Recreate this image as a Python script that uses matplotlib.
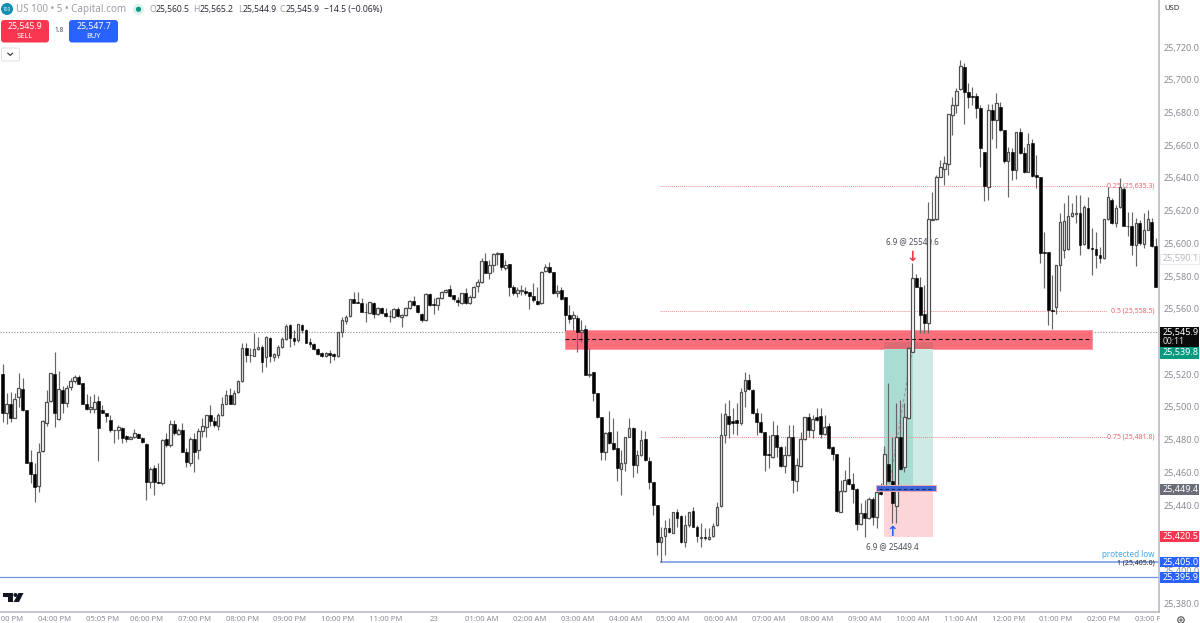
import matplotlib
matplotlib.use('Agg')
import matplotlib.pyplot as plt
from matplotlib.patches import Rectangle, FancyBboxPatch, Circle, Polygon

# 5 minute candles
opens = [
    25519.9, 25496.4, 25501.7, 25493.4, 25505.8, 25510.7, 25498.1, 25466.1, 25458.7, 25451.6,
    25473.0, 25490.3, 25503.6, 25520.1, 25492.4, 25510.3, 25502.2, 25511.9, 25515.8, 25518.3,
    25514.4, 25501.5, 25498.9, 25498.5, 25503.4, 25497.9, 25496.0, 25491.8, 25485.6, 25485.6,
    25486.9, 25482.2, 25480.5, 25481.8, 25483.6, 25481.2, 25477.3, 25453.9, 25462.4, 25453.9,
    25453.4, 25480.1, 25476.9, 25489.3, 25483.4, 25485.8, 25472.4, 25465.9, 25480.1, 25473.6,
    25485.2, 25487.9, 25495.0, 25491.1, 25488.3, 25495.0, 25501.7, 25507.2, 25501.9, 25509.3,
    25516.0, 25536.2, 25531.7, 25531.3, 25535.2, 25536.8, 25530.7, 25541.9, 25530.7, 25531.7,
    25536.4, 25541.7, 25550.0, 25542.3, 25540.9, 25549.8, 25547.0, 25539.4, 25538.4, 25535.6,
    25532.7, 25531.3, 25533.1, 25532.1, 25531.3, 25545.6, 25552.5, 25555.5, 25565.7, 25563.9,
    25563.7, 25558.2, 25557.6, 25563.3, 25556.8, 25560.2, 25557.6, 25555.8, 25555.1, 25559.6,
    25555.1, 25556.1, 25560.2, 25564.5, 25562.1, 25556.8, 25552.9, 25569.0, 25562.7, 25562.3,
    25566.3, 25570.2, 25571.8, 25568.2, 25565.3, 25563.3, 25569.4, 25563.3, 25566.9, 25574.1,
    25576.5, 25589.4, 25582.0, 25586.7, 25593.8, 25594.3, 25584.7, 25587.1, 25573.1, 25569.8,
    25571.0, 25571.0, 25570.4, 25567.8, 25564.9, 25563.3, 25583.3, 25585.3, 25582.2, 25569.4,
    25571.4, 25566.9, 25556.1, 25554.1, 25554.1, 25545.5, 25547.4, 25519.5, 25521.1, 25508.7,
    25493.6, 25472.6, 25484.4, 25477.7, 25474.6, 25461.8, 25465.9, 25481.8, 25486.9, 25464.4,
    25470.5, 25480.1, 25467.1, 25454.2, 25440.0, 25417.6, 25421.0, 25425.7, 25423.1, 25435.5,
    25433.5, 25417.6, 25427.8, 25436.3, 25426.3, 25419.7, 25420.3, 25419.1, 25421.3, 25427.8,
    25439.4, 25482.8, 25494.5, 25491.6, 25492.0, 25490.0, 25509.7, 25516.5, 25510.4, 25496.1,
    25490.6, 25484.5, 25471.0, 25469.6, 25482.6, 25475.7, 25464.1, 25470.6, 25481.8, 25454.9,
    25464.1, 25480.2, 25494.1, 25485.9, 25494.1, 25494.5, 25483.5, 25488.3, 25475.7, 25471.2,
    25436.0, 25448.8, 25455.7, 25452.7, 25449.8, 25428.4, 25434.9, 25431.9, 25443.5, 25432.5,
    25448.2, 25449.6, 25465.1, 25454.9, 25439.6, 25481.8, 25463.5, 25493.0, 25533.8, 25578.6,
    25573.5, 25556.8, 25551.1, 25614.5, 25614.7, 25640.8, 25645.2, 25648.5, 25678.5, 25684.6,
    25694.2, 25708.0, 25692.7, 25690.1, 25690.1, 25682.5, 25656.0, 25634.6, 25681.5, 25675.4,
    25683.6, 25669.3, 25650.3, 25656.0, 25644.8, 25668.3, 25655.0, 25643.8, 25661.1, 25641.6,
    25640.8, 25594.7, 25594.5, 25559.2, 25561.3, 25586.7, 25595.9, 25596.3, 25616.7, 25618.0,
    25618.7, 25599.4, 25621.4, 25596.9, 25596.5, 25592.9, 25590.8, 25614.7, 25626.5, 25612.2,
    25622.0, 25633.2, 25610.8, 25610.8, 25599.0, 25612.2, 25599.4, 25608.2, 25613.2, 25598.6,
]
highs = [
    25526.0, 25508.3, 25509.3, 25508.3, 25520.5, 25517.4, 25498.1, 25473.6, 25465.5, 25477.7,
    25492.0, 25510.3, 25520.5, 25533.7, 25522.1, 25512.7, 25513.4, 25517.4, 25519.5, 25519.5,
    25514.4, 25507.7, 25506.6, 25507.7, 25506.8, 25501.1, 25496.0, 25495.0, 25485.9, 25488.9,
    25487.9, 25482.8, 25482.2, 25486.5, 25484.2, 25481.8, 25477.7, 25463.4, 25464.4, 25465.5,
    25480.3, 25484.2, 25492.0, 25492.0, 25486.9, 25489.9, 25474.6, 25481.8, 25483.8, 25487.3,
    25493.0, 25495.0, 25501.1, 25494.0, 25496.0, 25506.2, 25510.3, 25511.3, 25510.3, 25516.4,
    25538.8, 25538.8, 25535.8, 25544.9, 25542.9, 25537.8, 25543.3, 25542.5, 25532.7, 25537.8,
    25542.5, 25550.7, 25550.7, 25547.0, 25550.7, 25550.7, 25547.4, 25541.9, 25538.8, 25536.2,
    25533.7, 25533.7, 25534.8, 25533.1, 25546.0, 25555.1, 25556.2, 25565.7, 25570.4, 25570.4,
    25566.3, 25563.3, 25564.3, 25564.3, 25561.3, 25560.8, 25560.2, 25559.2, 25560.2, 25561.3,
    25556.8, 25561.2, 25565.3, 25567.8, 25562.3, 25557.6, 25569.4, 25569.4, 25566.3, 25566.9,
    25571.0, 25571.8, 25574.5, 25568.4, 25566.9, 25569.8, 25572.9, 25568.4, 25573.9, 25578.0,
    25590.8, 25594.3, 25589.8, 25594.3, 25594.7, 25594.3, 25589.8, 25587.3, 25574.5, 25573.5,
    25574.5, 25573.5, 25570.4, 25575.9, 25573.5, 25583.0, 25587.3, 25588.8, 25582.6, 25574.5,
    25573.5, 25566.9, 25562.3, 25558.8, 25556.1, 25553.1, 25550.0, 25535.8, 25521.1, 25508.7,
    25493.6, 25484.8, 25497.5, 25493.4, 25485.4, 25473.6, 25481.8, 25493.0, 25487.5, 25473.6,
    25485.8, 25485.4, 25469.5, 25454.2, 25440.0, 25426.7, 25430.8, 25431.8, 25435.9, 25437.3,
    25433.9, 25433.9, 25435.9, 25438.6, 25427.8, 25428.8, 25425.8, 25425.8, 25428.8, 25442.1,
    25496.5, 25502.2, 25504.2, 25499.1, 25502.2, 25511.4, 25521.6, 25520.1, 25510.8, 25499.1,
    25496.1, 25484.9, 25482.8, 25491.4, 25489.0, 25476.1, 25476.1, 25489.0, 25489.0, 25468.6,
    25484.9, 25494.1, 25496.1, 25495.1, 25499.6, 25499.1, 25495.1, 25490.0, 25476.1, 25471.2,
    25455.3, 25461.4, 25469.2, 25459.4, 25450.2, 25441.1, 25443.1, 25444.7, 25445.1, 25448.6,
    25453.3, 25476.1, 25514.4, 25481.8, 25502.2, 25504.2, 25502.2, 25536.5, 25587.8, 25581.2,
    25579.6, 25574.5, 25625.5, 25631.6, 25641.8, 25650.9, 25653.4, 25678.9, 25689.7, 25694.8,
    25712.1, 25710.0, 25697.8, 25695.8, 25691.7, 25684.6, 25656.0, 25685.0, 25685.2, 25691.7,
    25686.6, 25669.3, 25659.1, 25658.1, 25668.3, 25670.3, 25659.1, 25667.2, 25663.6, 25654.0,
    25640.8, 25607.1, 25594.9, 25580.6, 25586.7, 25618.3, 25624.9, 25629.5, 25624.5, 25629.5,
    25629.5, 25623.4, 25628.5, 25609.2, 25607.1, 25598.0, 25614.7, 25634.6, 25627.5, 25623.4,
    25639.7, 25634.6, 25619.4, 25619.4, 25615.3, 25614.3, 25618.3, 25620.4, 25615.3, 25603.1,
]
lows = [
    25490.9, 25489.3, 25490.9, 25493.4, 25500.1, 25497.7, 25465.5, 25453.2, 25442.0, 25448.1,
    25472.6, 25488.5, 25503.2, 25487.9, 25492.0, 25496.0, 25500.1, 25510.3, 25514.4, 25514.0,
    25501.7, 25498.1, 25496.0, 25496.0, 25466.9, 25496.0, 25490.5, 25484.8, 25478.1, 25480.3,
    25478.1, 25478.7, 25480.1, 25480.8, 25480.8, 25478.1, 25443.0, 25450.2, 25446.1, 25453.2,
    25452.2, 25475.7, 25475.7, 25482.8, 25482.8, 25472.6, 25463.4, 25463.8, 25460.0, 25467.9,
    25481.8, 25481.4, 25488.3, 25487.9, 25485.8, 25494.6, 25501.7, 25501.7, 25501.7, 25508.3,
    25515.4, 25527.6, 25527.6, 25531.1, 25534.8, 25521.5, 25524.6, 25527.6, 25528.2, 25529.7,
    25535.8, 25540.9, 25536.8, 25537.8, 25539.9, 25544.9, 25538.8, 25536.8, 25534.8, 25531.7,
    25530.7, 25530.3, 25527.0, 25528.6, 25530.7, 25542.9, 25550.7, 25555.1, 25563.3, 25563.3,
    25557.8, 25552.1, 25557.2, 25554.1, 25556.2, 25556.8, 25555.1, 25551.7, 25554.5, 25554.7,
    25548.6, 25555.5, 25559.8, 25561.9, 25557.2, 25551.7, 25552.7, 25561.9, 25556.8, 25559.2,
    25565.7, 25569.8, 25567.4, 25564.9, 25561.9, 25562.9, 25562.9, 25562.9, 25566.3, 25570.4,
    25575.9, 25581.6, 25578.0, 25582.6, 25586.7, 25583.7, 25583.7, 25567.8, 25568.4, 25566.9,
    25568.4, 25568.4, 25559.8, 25564.3, 25562.3, 25562.9, 25582.6, 25581.6, 25569.0, 25566.9,
    25565.3, 25546.6, 25551.0, 25547.0, 25533.7, 25539.8, 25519.5, 25518.4, 25503.8, 25493.0,
    25467.5, 25467.5, 25477.3, 25473.6, 25454.9, 25446.1, 25461.0, 25481.8, 25456.9, 25459.3,
    25470.1, 25467.1, 25449.6, 25433.9, 25409.4, 25405.3, 25409.4, 25422.7, 25422.7, 25426.7,
    25417.0, 25414.5, 25426.7, 25426.3, 25417.6, 25414.2, 25418.7, 25418.7, 25420.7, 25427.2,
    25439.0, 25477.7, 25480.8, 25483.5, 25482.8, 25489.0, 25500.2, 25510.4, 25495.7, 25482.8,
    25483.9, 25460.8, 25462.5, 25469.0, 25469.6, 25463.5, 25459.8, 25470.0, 25447.6, 25448.8,
    25463.5, 25479.8, 25481.8, 25480.8, 25491.6, 25480.8, 25482.8, 25474.1, 25467.6, 25436.0,
    25436.0, 25448.2, 25452.2, 25441.5, 25424.8, 25427.8, 25420.7, 25431.3, 25427.8, 25425.8,
    25446.4, 25449.2, 25454.3, 25428.8, 25428.8, 25461.4, 25460.4, 25492.5, 25533.8, 25573.1,
    25545.0, 25545.0, 25545.0, 25614.3, 25614.3, 25640.4, 25635.7, 25641.8, 25666.2, 25679.5,
    25693.7, 25673.0, 25682.5, 25684.6, 25676.4, 25646.9, 25626.1, 25626.5, 25663.6, 25658.1,
    25668.9, 25648.9, 25628.5, 25638.7, 25639.1, 25654.6, 25643.2, 25643.4, 25640.8, 25633.6,
    25587.8, 25572.5, 25550.1, 25547.4, 25556.8, 25571.1, 25590.8, 25595.9, 25616.3, 25612.2,
    25592.9, 25599.0, 25596.5, 25580.6, 25584.7, 25587.8, 25590.4, 25614.3, 25611.8, 25610.2,
    25621.4, 25610.6, 25604.5, 25592.9, 25586.3, 25599.0, 25596.9, 25608.2, 25598.0, 25573.1,
]
closes = [
    25496.0, 25501.7, 25493.4, 25504.8, 25511.3, 25498.1, 25465.9, 25458.7, 25450.8, 25472.2,
    25491.4, 25503.2, 25520.5, 25496.4, 25511.1, 25502.2, 25511.7, 25515.8, 25518.3, 25514.0,
    25501.9, 25498.7, 25500.1, 25503.0, 25487.3, 25496.2, 25494.6, 25485.6, 25485.9, 25487.9,
    25480.8, 25480.1, 25481.8, 25483.8, 25481.2, 25478.3, 25453.9, 25462.0, 25453.9, 25453.7,
    25479.9, 25476.9, 25489.3, 25483.8, 25485.8, 25472.6, 25466.1, 25480.5, 25472.4, 25485.0,
    25488.5, 25495.0, 25491.1, 25488.9, 25494.8, 25501.7, 25507.2, 25501.9, 25508.7, 25515.8,
    25536.2, 25531.7, 25531.5, 25535.2, 25536.8, 25527.6, 25542.5, 25531.1, 25532.1, 25536.6,
    25541.7, 25549.4, 25541.9, 25540.5, 25550.5, 25547.0, 25539.2, 25538.6, 25535.6, 25532.5,
    25531.3, 25532.9, 25531.7, 25531.3, 25545.6, 25553.1, 25555.1, 25565.7, 25563.7, 25563.7,
    25558.2, 25557.8, 25564.3, 25556.8, 25560.2, 25557.2, 25555.8, 25555.5, 25559.6, 25555.5,
    25556.1, 25560.2, 25564.5, 25562.5, 25557.8, 25553.1, 25568.8, 25562.3, 25562.5, 25566.3,
    25570.4, 25571.4, 25567.8, 25565.7, 25564.1, 25569.4, 25563.3, 25567.4, 25573.5, 25576.5,
    25589.4, 25582.0, 25586.7, 25593.8, 25594.3, 25585.7, 25586.7, 25573.5, 25569.4, 25571.4,
    25571.2, 25569.8, 25567.8, 25565.3, 25562.9, 25582.6, 25585.3, 25582.2, 25569.4, 25571.0,
    25565.7, 25556.3, 25553.5, 25556.1, 25546.0, 25547.0, 25519.5, 25520.1, 25508.7, 25493.6,
    25472.6, 25484.2, 25477.7, 25474.2, 25462.4, 25465.9, 25481.8, 25486.9, 25464.4, 25470.5,
    25479.7, 25467.5, 25454.2, 25440.0, 25417.6, 25420.6, 25425.7, 25423.3, 25435.5, 25431.8,
    25417.6, 25427.8, 25435.5, 25426.7, 25421.0, 25420.7, 25419.7, 25420.7, 25427.4, 25439.0,
    25482.8, 25495.5, 25489.6, 25490.0, 25490.0, 25509.3, 25516.5, 25510.8, 25496.1, 25490.6,
    25484.9, 25470.6, 25470.6, 25482.6, 25475.7, 25464.1, 25470.6, 25481.8, 25455.3, 25464.5,
    25480.2, 25493.6, 25485.9, 25492.4, 25492.0, 25483.5, 25487.9, 25474.7, 25471.2, 25436.4,
    25448.6, 25455.3, 25452.7, 25449.8, 25428.4, 25435.4, 25431.9, 25443.9, 25432.5, 25448.2,
    25446.8, 25471.0, 25454.9, 25441.5, 25481.4, 25462.1, 25493.6, 25536.0, 25578.6, 25573.5,
    25556.2, 25551.1, 25614.7, 25614.9, 25640.8, 25646.9, 25648.9, 25678.9, 25684.6, 25693.3,
    25708.4, 25692.7, 25689.3, 25689.7, 25682.5, 25658.5, 25635.0, 25681.5, 25675.4, 25685.6,
    25669.3, 25650.3, 25656.0, 25644.8, 25668.3, 25655.0, 25643.8, 25660.7, 25641.2, 25640.8,
    25594.3, 25594.3, 25559.2, 25558.8, 25586.7, 25613.2, 25613.6, 25616.7, 25618.7, 25618.7,
    25599.0, 25622.0, 25596.9, 25596.5, 25592.9, 25590.8, 25614.7, 25628.5, 25612.2, 25621.4,
    25634.6, 25610.8, 25610.4, 25599.0, 25612.2, 25600.0, 25608.2, 25614.7, 25598.4, 25573.5,
]

price_ticks = list(range(25380, 25721, 20))
time_ticks = [1, 13, 25, 36, 48, 60, 72, 84, 96, 108, 120, 132, 144, 156, 168, 180, 192, 204,
              216, 228, 240, 252, 264, 276, 288]
time_labels = ['03:00 PM', '04:00 PM', '05:05 PM', '06:00 PM', '07:00 PM', '08:00 PM', '09:00 PM',
               '10:00 PM', '11:00 PM', '23', '01:00 AM', '02:00 AM', '03:00 AM', '04:00 AM',
               '05:00 AM', '06:00 AM', '07:00 AM', '08:00 AM', '09:00 AM', '10:00 AM', '11:00 AM',
               '12:00 PM', '01:00 PM', '02:00 PM', '03:00 PM']

last_price = 25545.9
fib_levels = [(0.25, 25635.3), (0.5, 25558.5), (0.75, 25481.8)]
fib_low = 25405.0
lower_line = 25395.9
entry_price = 25449.4
target_price = 25539.8
stop_price = 25420.5
zone_top = 25547.0
zone_bottom = 25535.4
zone_mid = 25541.3

FONT = 'Noto Sans'
AXIS_GRAY = '#8a8d96'
plt.rcParams['font.family'] = FONT

fig = plt.figure(figsize=(12, 6.23), dpi=100)
ax = fig.add_axes([0, 11 / 623, 1159 / 1200, 612 / 623])
ax.set_xlim(-0.68, 289.8)
ax.set_ylim(25374.6, 25748.8)

#
# drawings under the candles
#
ax.axhline(last_price, color='#8f8f8f', lw=0.8, ls=(0, (1, 1.5)), zorder=1)
ax.hlines(lower_line, -1, 290, color='#6f94e6', lw=0.9, zorder=1)

ax.add_patch(Rectangle((140.9, zone_bottom), 132, zone_top - zone_bottom, fc='#f86f7b', ec='#fb9aa2',
                       lw=0.7, zorder=2))
ax.add_patch(Rectangle((220.9, entry_price), 7.2, target_price - entry_price, fc='#a9ddd3', ec='none', zorder=2.2))
ax.add_patch(Rectangle((228.1, entry_price), 5.1, target_price - entry_price, fc='#cdeae5', ec='none', zorder=2.2))
ax.add_patch(Rectangle((220.9, stop_price), 12.3, entry_price - stop_price, fc='#fbd5d8', ec='none', zorder=2.2))
# overlap of the position box with the zone
ax.add_patch(Rectangle((220.9, zone_bottom), 12.3, target_price - zone_bottom, fc='#de6b73', ec='none', zorder=2.3))
ax.plot([222, 228], [entry_price, zone_bottom], color='#8f9a98', lw=0.8, ls=(0, (3, 2)), zorder=2.5)

for level, value in fib_levels:
    ax.hlines(value, 164.7, 276.8, color='#f58a90', lw=0.7, ls=(0, (1, 1)), zorder=2.5)
    ax.text(288.6, value, '{} ({:,.1f})'.format(level, value), color='#f6606c', fontsize=5, ha='right',
            va='center', zorder=2.5)
ax.hlines(fib_low, 164.7, 290, color='#6f94e6', lw=1.1, zorder=2.5)

ax.text(227.9, 25600.8, '6.9 @ 25540.6', color='#4a4e59', fontsize=5.8, ha='center', va='center', zorder=2.6)

#
# candles
#
for i in range(len(opens)):
    up = closes[i] >= opens[i]
    ax.vlines(i, lows[i], highs[i], color='#666666', lw=0.85, zorder=3)
    top = max(opens[i], closes[i])
    bottom = min(opens[i], closes[i])
    if up:
        ax.bar(i, top - bottom, width=0.66, bottom=bottom, fc='white', ec='#505050', lw=0.9, zorder=4)
    else:
        ax.bar(i, top - bottom, width=0.72, bottom=bottom, fc='black', ec='black', lw=0.4, zorder=4)

# dashed lines and the entry bar sit over the candles
ax.hlines(zone_mid, 140.9, 272.9, color='#161616', lw=0.8, ls=(0, (3.5, 2.5)), zorder=5)
ax.add_patch(Rectangle((218.9, 25448.8), 15, 3.5, fc='#3f66d8', ec='#f5a9b0', lw=0.7, zorder=5))
ax.hlines(entry_price + 0.4, 219.5, 233.5, color='#1b2a55', lw=0.8, ls=(0, (3, 2.5)), zorder=5.1)

ax.text(222.9, 25414.8, '6.9 @ 25449.4', color='#4a4e59', fontsize=5.8, ha='center', va='center', zorder=6)
ax.text(222.9, 25423.5, '\u2191', color='#2962ff', fontsize=10, ha='center', va='center', fontweight='bold',
        family='DejaVu Sans', zorder=6)
ax.text(227.9, 25591.6, '\u2193', color='#f23645', fontsize=10, ha='center', va='center', fontweight='bold',
        family='DejaVu Sans', zorder=6)
ax.text(288.6, 25409.7, 'protected low', color='#3fa9f5', fontsize=5.8, ha='right', va='center', zorder=6)
ax.text(288.6, 25404.3, '1 ({:,.1f})'.format(fib_low), color='#222222', fontsize=5, ha='right', va='center', zorder=6)

#
# axes
#
ax.yaxis.tick_right()
ax.set_yticks(price_ticks)
# 25,540 sits behind the last price badge, so its label is left empty
ax.set_yticklabels(['' if p == 25540 else '{:,.1f}'.format(p) for p in price_ticks])
ax.set_xticks(time_ticks)
ax.set_xticklabels(time_labels)
ax.tick_params(axis='y', length=0, pad=3.2, labelsize=6.5, labelcolor=AXIS_GRAY)
ax.tick_params(axis='x', length=0, pad=3, labelsize=5.5, labelcolor=AXIS_GRAY)
for side in ['top', 'left']:
    ax.spines[side].set_visible(False)
ax.spines['right'].set_color('#b5b7bd')
ax.spines['bottom'].set_color('#b5b7bd')
ax.spines['right'].set_linewidth(1.1)
ax.spines['bottom'].set_linewidth(1.1)

#
# everything around the chart, in screen pixels
#
ov = fig.add_axes([0, 0, 1, 1], zorder=5)
ov.set_xlim(0, 1200)
ov.set_ylim(623, 0)
ov.axis('off')
ov.patch.set_visible(False)

# corner under the price scale cuts off the last time label
ov.add_patch(Rectangle((1159.6, 612.6), 41, 11, fc='white', ec='none'))
ov.add_patch(Circle((1181, 620), 3.2, fc='white', ec='#3a3a3a', lw=0.7))
ov.add_patch(Circle((1181, 620), 1.1, fc='white', ec='#3a3a3a', lw=0.6))

# header
ov.add_patch(Circle((7, 9), 6, fc='#0f8fb3', ec='none'))
ov.text(7, 9.2, '100', color='white', fontsize=3.4, ha='center', va='center', fontweight='bold')
ov.text(16, 9.5, 'US 100 \u2022 5 \u2022 Capital.com', color='#9a9da6', fontsize=7.1, va='center')
ov.add_patch(Circle((138.5, 9.3), 5.5, fc='#daf1ec', ec='none'))
ov.add_patch(Circle((138.5, 9.3), 2.6, fc='#089981', ec='none'))
for x, letter, x_num, num in [(149.5, 'O', 156, '25,560.5'), (193.5, 'H', 200, '25,565.2'),
                              (238, 'L', 243, '25,544.9'), (280, 'C', 286, '25,545.9')]:
    ov.text(x, 9.5, letter, color='#9a9da6', fontsize=6.2, va='center')
    ov.text(x_num, 9.5, num, color='#2a2e39', fontsize=6.2, va='center')
ov.text(324, 9.5, '\u221214.5 (\u22120.06%)', color='#2a2e39', fontsize=6.2, va='center')

# trade buttons
ov.add_patch(FancyBboxPatch((3, 22), 44, 18.5, boxstyle='round,pad=2,rounding_size=3', fc='#f7374f', ec='none'))
ov.add_patch(FancyBboxPatch((71, 22), 45, 18.5, boxstyle='round,pad=2,rounding_size=3', fc='#2962ff', ec='none'))
ov.text(25, 26, '25,545.9', color='white', fontsize=6.3, ha='center', va='center', fontweight='medium')
ov.text(25, 36, 'SELL', color='white', fontsize=5.4, ha='center', va='center')
ov.text(59.5, 31, '1.8', color='#4a4e59', fontsize=4.8, ha='center', va='center')
ov.text(94, 26, '25,547.7', color='white', fontsize=6.3, ha='center', va='center', fontweight='medium')
ov.text(93.5, 36, 'BUY', color='white', fontsize=5.4, ha='center', va='center')
ov.add_patch(FancyBboxPatch((2, 48.5), 17, 12, boxstyle='round,pad=0.5,rounding_size=1.5', fc='white',
                            ec='#dfe0e4', lw=0.7))
ov.plot([7.8, 10.2, 12.6], [53.2, 55.4, 53.2], color='#2a2e39', lw=0.8)

# logo
ov.add_patch(Polygon([(3, 593), (13, 593), (13, 602), (8, 602), (8, 597), (3, 597)], fc='#131722', ec='none'))
ov.add_patch(Circle((15.5, 595), 2, fc='#131722', ec='none'))
ov.add_patch(Polygon([(18.5, 593), (23.5, 593), (19, 602), (13.7, 602)], fc='#131722', ec='none'))

ov.text(1172, 9, 'USD', color='#2a2e39', fontsize=5.5, ha='center', va='center')

# price scale badges
badges = [(258.8, 10.5, 'white', '#b9bcc4', '25,590.1', '#e8e9ec'),
          (353.0, 11.5, '#089981', 'white', '25,539.8', None),
          (489.6, 10.5, '#6a6d78', 'white', '25,449.4', None),
          (536.7, 10.5, '#f7374f', 'white', '25,420.5', None),
          (562.0, 10.5, '#2962ff', 'white', '25,405.0', None),
          (577.5, 10.5, '#2962ff', 'white', '25,395.9', None)]
for y, h, fc, tc, txt, ec in badges:
    ov.add_patch(Rectangle((1159.5, y - h / 2), 39.5, h, fc=fc, ec=ec if ec else 'none', lw=0.6))
    ov.text(1163, y, txt, color=tc, fontsize=6.5, va='center', fontweight='medium')
ov.add_patch(Rectangle((1159.5, 326.7), 39.5, 20.6, fc='#0a0a0a', ec='none'))
ov.text(1163, 332, '25,545.9', color='white', fontsize=6.5, va='center', fontweight='medium')
ov.text(1163, 342, '00:11', color='#d8d8d8', fontsize=6.2, va='center')

fig.savefig('out.png', dpi=100)
